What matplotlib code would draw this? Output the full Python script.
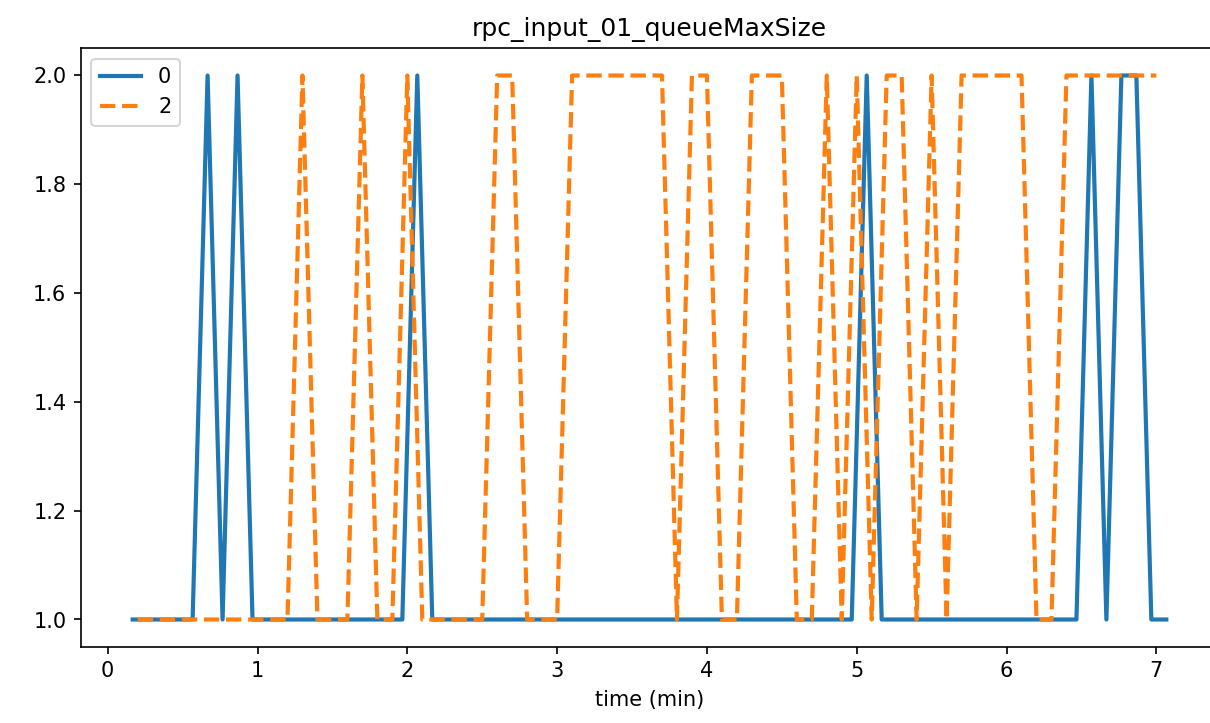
import numpy as np
import matplotlib
matplotlib.use("Agg")
import matplotlib.pyplot as plt

# sampling times (min), one sample every 6 s
t_blue = np.round(np.arange(70) * 0.1 + 1 / 6, 4)
t_orange = np.round(np.arange(69) * 0.1 + 0.2, 4)

# queueMaxSize per series
q0 = [1, 1, 1, 1, 1, 2, 1, 2,
      1, 1, 1, 1, 1, 1, 1, 1, 1, 1, 1,
      2,
      1, 1, 1, 1, 1, 1, 1, 1, 1, 1, 1, 1, 1, 1, 1, 1, 1, 1, 1, 1, 1, 1, 1, 1, 1, 1, 1, 1, 1,
      2,
      1, 1, 1, 1, 1, 1, 1, 1, 1, 1, 1, 1, 1, 1,
      2, 1, 2, 2, 1, 1]
q2 = [1, 1, 1, 1, 1, 1, 1, 1, 1, 1, 1,
      2, 1, 1, 1, 2, 1, 1, 2,
      1, 1, 1, 1, 1,
      2, 2, 1, 1, 1,
      2, 2, 2, 2, 2, 2, 2,
      1, 2, 2, 1, 1, 2, 2, 2, 1, 1, 2, 1, 2, 1, 2, 2, 1, 2, 1,
      2, 2, 2, 2, 2,
      1, 1,
      2, 2, 2, 2, 2, 2, 2]

fig = plt.figure(figsize=(1210 / 150, 723 / 150), dpi=150)
# axes runs slightly past the right edge of the image, as in the original
ax = fig.add_axes([81 / 1210, 1 - 646.7 / 723, (1218 - 81) / 1210, (646.7 - 48.3) / 723])

ax.plot(t_blue, q0, color="#1f77b4", lw=2, label="0")
ax.plot(t_orange, q2, color="#ff7f0e", lw=2, ls="--", label="2")

ax.set_title("rpc_input_01_queueMaxSize")
ax.set_xlabel("time (min)")
ax.legend(loc="upper left")

fig.savefig("out.png", dpi=150)
